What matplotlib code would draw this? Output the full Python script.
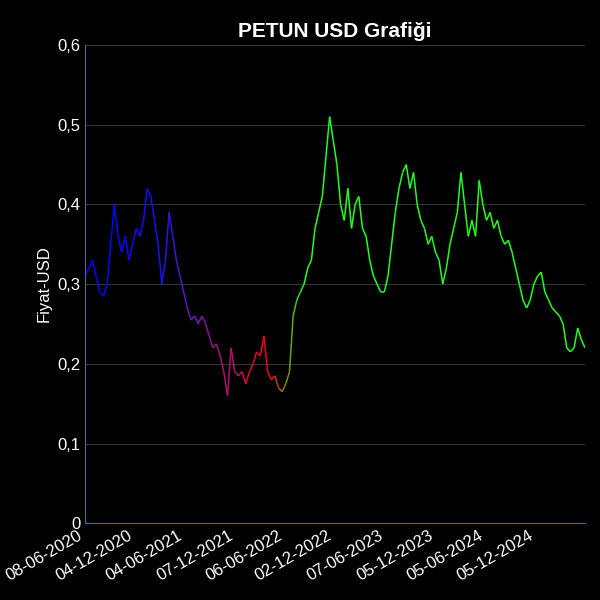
import matplotlib
matplotlib.use("Agg")
import matplotlib.pyplot as plt
import matplotlib.dates as mdates
from matplotlib.collections import LineCollection
from matplotlib.colors import LinearSegmentedColormap
import numpy as np
import pandas as pd

plt.rcParams['font.family'] = ['Liberation Sans', 'DejaVu Sans']

start_date = "2020-06-08"
end_date = "2025-06-01"
values = [0.31,0.32,0.33,0.31,0.29,0.285,0.30,0.35,0.40,0.36,0.34,0.36,0.33,0.35,0.37,0.36,0.38,0.42,0.41,0.38,
0.35,0.30,0.33,0.39,0.36,0.33,0.31,0.29,0.27,0.255,0.26,0.25,0.26,0.25,0.235,0.22,0.225,0.21,0.19,0.16,
0.22,0.19,0.185,0.19,0.175,0.19,0.20,0.215,0.21,0.235,0.19,0.18,0.185,0.17,0.165,0.175,0.19,0.26,0.28,0.29,
0.30,0.32,0.33,0.37,0.39,0.41,0.46,0.51,0.48,0.45,0.40,0.38,0.42,0.37,0.40,0.41,0.37,0.36,0.33,0.31,
0.30,0.29,0.29,0.31,0.35,0.39,0.42,0.44,0.45,0.42,0.44,0.40,0.38,0.37,0.35,0.36,0.34,0.33,0.30,0.32,
0.35,0.37,0.39,0.44,0.40,0.36,0.38,0.36,0.43,0.40,0.38,0.39,0.37,0.38,0.36,0.35,0.355,0.34,0.32,0.30,
0.28,0.27,0.28,0.30,0.31,0.315,0.29,0.28,0.27,0.265,0.26,0.25,0.22,0.215,0.22,0.245,0.23,0.22]
tick_dates = ["2020-06-08","2020-12-04","2021-06-04","2021-12-07","2022-06-06","2022-12-02",
              "2023-06-07","2023-12-05","2024-06-05","2024-12-05"]
tick_labels = ["08-06-2020","04-12-2020","04-06-2021","07-12-2021","06-06-2022","02-12-2022",
               "07-06-2023","05-12-2023","05-06-2024","05-12-2024"]
color_stops = [(0.0,"#0000ff"),(0.14,"#1010ff"),(0.21,"#6a1ab0"),(0.3,"#c0105a"),(0.37,"#ff0000"),
               (0.39,"#a06a10"),(0.42,"#30d020"),(0.44,"#22ff22"),(1.0,"#22ff22")]

dates = pd.date_range(start_date, end_date, periods=len(values))
x = mdates.date2num(dates)
y = np.array(values)

fig = plt.figure(figsize=(6,6), dpi=100, facecolor="black")
ax = fig.add_axes([0.142, 0.128, 0.833, 0.797], facecolor="black")
cmap = LinearSegmentedColormap.from_list("c", color_stops)
pts = np.column_stack([x, y]).reshape(-1,1,2)
segs = np.concatenate([pts[:-1], pts[1:]], axis=1)
t = (x[:-1]-x[0])/(x[-1]-x[0])
lc = LineCollection(segs, colors=cmap(t), linewidth=1.1)
ax.add_collection(lc)
ax.set_xlim(x[0], x[-1])
ax.set_ylim(0, 0.6)
ax.set_yticks([0,0.1,0.2,0.3,0.4,0.5,0.6])
ax.set_yticklabels(["0","0,1","0,2","0,3","0,4","0,5","0,6"])
ax.set_xticks(mdates.date2num(pd.to_datetime(tick_dates)))
ax.set_xticklabels(tick_labels, rotation=30, ha="right")
ax.tick_params(colors="white", labelsize=12, length=0)
ax.grid(axis="y", color="#333333", linewidth=0.8)
for s in ["top","right"]:
    ax.spines[s].set_visible(False)
for s in ["left","bottom"]:
    ax.spines[s].set_color("#4a6a8a")
ax.set_ylabel("Fiyat-USD", color="white", fontsize=12)
ax.set_title("PETUN USD Grafiği", color="white", fontsize=15, fontweight="bold")
fig.savefig("out.png", facecolor="black")
